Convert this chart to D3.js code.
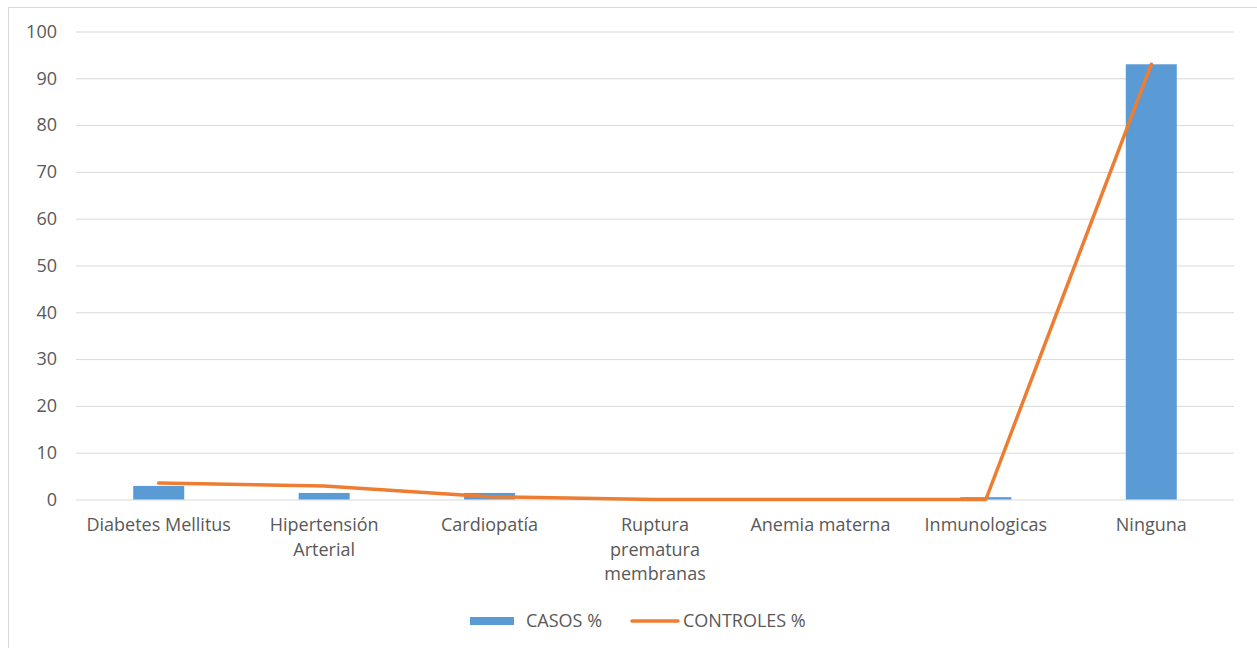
<!doctype html>
<html>
<head>
<meta charset="UTF-8">
<title>Casos vs Controles</title>
<script src="https://d3js.org/d3.v7.min.js"></script>
<style>
  body { margin: 0; background: #fff; }
  text { font-family: "Open Sans", "Noto Sans", sans-serif; fill: #595959; }
</style>
</head>
<body>
<svg id="chart" width="1257" height="648"></svg>
<script>
// categorias (lineas de cada etiqueta)
var categorias = [
    ["Diabetes Mellitus"],
    ["Hipertensión", "Arterial"],
    ["Cardiopatía"],
    ["Ruptura", "prematura", "membranas"],
    ["Anemia materna"],
    ["Inmunologicas"],
    ["Ninguna"]
];
var casos = [2.9, 1.4, 1.4, 0, 0, 0.5, 93];
var controles = [3.5, 2.9, 0.6, 0, 0, 0, 93];
var yTicks = [0, 10, 20, 30, 40, 50, 60, 70, 80, 90, 100];
var series = ["CASOS %", "CONTROLES %"];

var W = 1257, H = 648;
var mLeft = 76, mRight = 1234, mTop = 31.5, mBottom = 499.5;
var fs = 18;
var svg = d3.select("#chart");

// marco
svg.append("rect")
    .attr("x", 8.5).attr("y", 7.5)
    .attr("width", W - 8).attr("height", H - 6)
    .attr("fill", "none").attr("stroke", "#d9d9d9");

var x = d3.scaleBand()
    .domain(d3.range(categorias.length))
    .range([mLeft, mRight]);
var y = d3.scaleLinear().domain([0, 100]).range([mBottom, mTop]);

// grilla + eje y
var yAxis = d3.axisLeft(y).tickValues(yTicks).tickSize(-(mRight - mLeft)).tickPadding(19);
var gy = svg.append("g").attr("transform", "translate(" + mLeft + ",0)").call(yAxis);
gy.select(".domain").remove();
gy.selectAll("line").attr("stroke", "#d9d9d9");
gy.selectAll("text").attr("font-size", fs).attr("fill", "#595959")
    .style("font-family", "'Open Sans', sans-serif");

// barras
var bw = 51;
svg.selectAll("rect.bar").data(casos).enter().append("rect")
    .attr("class", "bar")
    .attr("x", function (d, i) { return x(i) + x.bandwidth() / 2 - bw / 2; })
    .attr("y", function (d) { return y(d); })
    .attr("width", bw)
    .attr("height", function (d) { return y(0) - y(d); })
    .attr("fill", "#5b9bd5");

// linea
var line = d3.line()
    .x(function (d, i) { return x(i) + x.bandwidth() / 2; })
    .y(function (d) { return y(d); });
svg.append("path").datum(controles)
    .attr("d", line)
    .attr("fill", "none")
    .attr("stroke", "#ed7d31")
    .attr("stroke-width", 3.5)
    .attr("stroke-linecap", "round")
    .attr("stroke-linejoin", "round");

// etiquetas x
var lab = svg.selectAll("text.cat").data(categorias).enter().append("text")
    .attr("class", "cat")
    .attr("text-anchor", "middle")
    .attr("font-size", fs)
    .attr("x", function (d, i) { return x(i) + x.bandwidth() / 2; })
    .attr("y", 531);
lab.selectAll("tspan").data(function (d) { return d; }).enter().append("tspan")
    .attr("x", function () { return d3.select(this.parentNode).attr("x"); })
    .attr("dy", function (d, i) { return i === 0 ? 0 : 24.5; })
    .text(function (d) { return d; });

// leyenda
var lg = svg.append("g").attr("transform", "translate(0,621)");
lg.append("rect").attr("x", 470).attr("y", -4).attr("width", 44).attr("height", 8).attr("fill", "#5b9bd5");
lg.append("text").attr("x", 526).attr("y", 6).attr("font-size", fs).text(series[0]);
lg.append("line").attr("x1", 632).attr("x2", 678).attr("y1", 0).attr("y2", 0)
    .attr("stroke", "#ed7d31").attr("stroke-width", 3.5).attr("stroke-linecap", "round");
lg.append("text").attr("x", 683).attr("y", 6).attr("font-size", fs).text(series[1]);
</script>
</body>
</html>
